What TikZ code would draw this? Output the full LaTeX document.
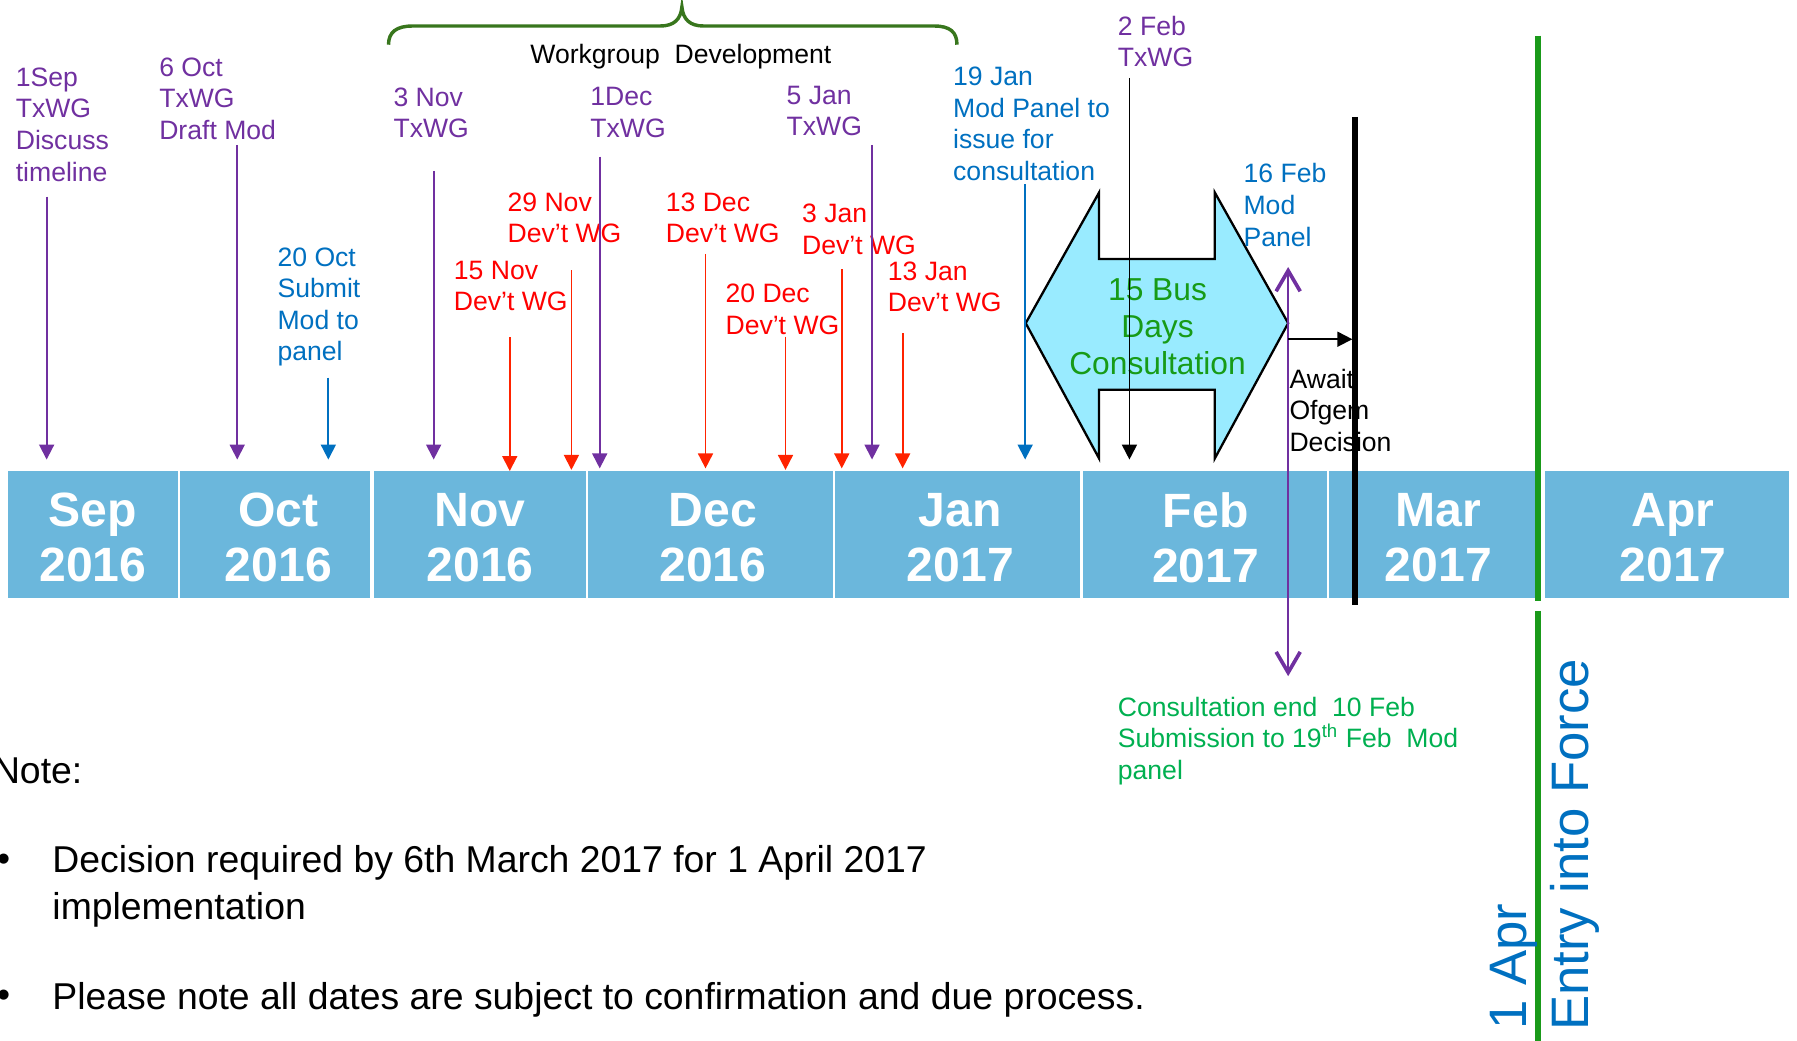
\documentclass[tikz,border=0pt]{standalone}
\usepackage{fontspec}
\setmainfont{Liberation Sans}
\usetikzlibrary{arrows.meta}
\definecolor{cpurple}{RGB}{112,48,160}
\definecolor{cblue}{RGB}{0,112,192}
\definecolor{cred}{RGB}{255,0,0}
\definecolor{carrred}{RGB}{255,35,0}
\definecolor{cgreen}{RGB}{0,176,80}
\definecolor{cgreenline}{RGB}{26,154,26}
\definecolor{cbrace}{RGB}{56,118,29}
\definecolor{barblue}{RGB}{107,183,220}
\definecolor{hexfill}{RGB}{153,235,255}
\definecolor{consgreen}{RGB}{23,155,23}
\begin{document}
\begin{tikzpicture}[x=0.5pt,y=-0.5pt,
  lbl/.style={inner sep=0pt, align=left, anchor=north west, font=\fontsize{11.6pt}{13.8pt}\selectfont},
  mtext/.style={inner sep=0pt, align=center, text=white, font=\bfseries\fontsize{21pt}{24pt}\selectfont},
  notetext/.style={inner sep=0pt, align=left, anchor=north west, font=\fontsize{16.3pt}{20.3pt}\selectfont},
  bullet/.style={inner sep=0pt, anchor=base west, font=\fontsize{16.3pt}{20.3pt}\selectfont},
  rottext/.style={inner sep=0pt, rotate=90, anchor=base west, text=cblue, font=\fontsize{23pt}{27pt}\selectfont},
  arr/.style={line width=0.8pt, -{Triangle[length=6.5pt,width=6.5pt]}},
  dblv/.style={{Straight Barb[length=9pt,width=10.5pt,line width=1.6pt]}-{Straight Barb[length=9pt,width=10.5pt,line width=1.6pt]}}
]
\useasboundingbox (0,0) rectangle (1568,908);

% month bar
\foreach \n/\a/\b in {sep/7/155, oct/157/323, nov/326/511, dec/513/727, jan/729/942, feb/945/1158, mar/1160/1340, apr/1348/1561}{
  \path[fill=barblue] (\a,411) rectangle (\b,522);
}
\node[mtext] (tsep) at (81,469) {Sep\\2016};
\node[mtext] (toct) at (243,469) {Oct\\2016};
\node[mtext] (tnov) at (419,469) {Nov\\2016};
\node[mtext] (tdec) at (622,469) {Dec\\2016};
\node[mtext] (tjan) at (838,469) {Jan\\2017};
\node[mtext] (tfeb) at (1052,469) {Feb\\2017};
\node[mtext] (tmar) at (1255,469) {Mar\\2017};
\node[mtext] (tapr) at (1460,469) {Apr\\2017};

% brace
\draw[cbrace, line width=1.5pt] (339,39) .. controls (339,28) and (346,22.7) .. (360,22.7) -- (576,22.7)
  .. controls (588,22.7) and (594,17) .. (595,6) .. controls (596,17) and (602,22.7) .. (614,22.7) -- (815,22.7)
  .. controls (829,22.7) and (835,28) .. (835,39);
\node[lbl] (lwg) at (462.4,38) {Workgroup\ \ Development};

% consultation double arrow
\draw[line width=1pt, fill=hexfill] (895,282) -- (959,168) -- (959,226) -- (1060,226) -- (1060,168) -- (1124,282)
  -- (1060,400) -- (1060,340) -- (959,340) -- (959,400) -- cycle;
\node[inner sep=0pt, align=center, anchor=north, text=consgreen, font=\fontsize{13.85pt}{16.3pt}\selectfont] (lcons) at (1010,242.5) {15 Bus\\Days\\Consultation};

% labels
\node[lbl, text=cpurple] (l1sep) at (13.4,58.6) {1Sep\\TxWG\\Discuss\\timeline};
\node[lbl, text=cpurple] (l6oct) at (138.6,49.8) {6 Oct\\TxWG\\Draft Mod};
\node[lbl, text=cpurple] (l3nov) at (343,76) {3 Nov\\TxWG};
\node[lbl, text=cpurple] (l1dec) at (514.8,76) {1Dec\\TxWG};
\node[lbl, text=cpurple] (l5jan) at (686,74.5) {5 Jan\\TxWG};
\node[lbl, text=cpurple] (l2feb) at (975,13.4) {2 Feb\\TxWG};
\node[lbl, text=cblue] (l20oct) at (241.8,215.6) {20 Oct\\Submit\\Mod to\\panel};
\node[lbl, text=cblue] (l19jan) at (831.3,58) {19 Jan\\Mod Panel to\\issue for\\consultation};
\node[lbl, text=cblue] (l16feb) at (1084.7,142.3) {16 Feb\\Mod\\Panel};
\node[lbl, text=cred] (l29nov) at (442.5,167.6) {29 Nov\\Dev’t WG};
\node[lbl, text=cred] (l15nov) at (395.7,227.2) {15 Nov\\Dev’t WG};
\node[lbl, text=cred] (l13dec) at (580.6,167.6) {13 Dec\\Dev’t WG};
\node[lbl, text=cred] (l20dec) at (632.7,247.6) {20 Dec\\Dev’t WG};
\node[lbl, text=cred] (l3jan) at (699.5,177.8) {3 Jan\\Dev’t WG};
\node[lbl, text=cred] (l13jan) at (774.3,227.8) {13 Jan\\Dev’t WG};
\node[lbl] (lawait) at (1124.8,321.6) {Await\\Ofgem\\Decision};
\node[lbl, text=cgreen] (lcend) at (975,607.6) {Consultation end\ \ 10 Feb\\Submission to 19\textsuperscript{th} Feb\ \ Mod\\panel};

% arrows
\foreach \n/\x/\ya/\yb/\c in {
  a1sep/40.7/171.6/401/cpurple, a6oct/207/126.5/401/cpurple, a3nov/378.4/149/401/cpurple,
  a1dec/523.3/136.7/408.7/cpurple, a5jan/760.9/126.5/401/cpurple,
  a20oct/286.5/329.6/401/cblue, a19jan/894.5/160.9/401/cblue,
  a15nov/444.8/294.4/411/carrred, a29nov/498.6/235.6/410/carrred, a13dec/615.6/221.6/408.7/carrred,
  a20dec/685.4/293.8/410/carrred, a3jan/734.5/235/408.7/carrred, a13jan/787.6/290.9/408.7/carrred,
  a2feb/985.5/68/401/black}{
  \coordinate (\n s) at (\x,\ya);
  \coordinate (\n e) at (\x,\yb);
  \draw[arr, \c] (\n s) -- (\n e);
}

% 16 Feb / consultation end double arrow
\coordinate (pup) at (1124,233);
\coordinate (pdown) at (1124,590);
\draw[cpurple, line width=0.6pt, dblv] (pup) -- (pdown);

% await arrow
\coordinate (aws) at (1124,296);
\coordinate (awe) at (1180,296);
\draw[arr, black] (aws) -- (awe);

% decision line
\coordinate (dtop) at (1182,102);
\coordinate (dbot) at (1182,528);
\draw[line width=2.5pt] (dtop) -- (dbot);

% entry into force line
\coordinate (gtop) at (1342,31);
\coordinate (gmid1) at (1342,524);
\coordinate (gmid2) at (1342,533);
\coordinate (gbot) at (1342,910);
\draw[cgreenline, line width=3pt] (gtop) -- (gmid1);
\draw[cgreenline, line width=3pt] (gmid2) -- (gbot);
\node[rottext] (apr1) at (1332,899) {1 Apr};
\node[rottext] (entry) at (1386,900) {Entry into Force};

% notes
\node[notetext] (note) at (-6.5,660.5) {Note:};
\node[bullet] (bul1) at (-3,760.5) {•};
\node[notetext] (n1) at (45.4,737.5) {Decision required by 6th March 2017 for 1 April 2017\\implementation};
\node[bullet] (bul2) at (-3,879.5) {•};
\node[notetext] (n2) at (45.4,856.5) {Please note all dates are subject to confirmation and due process.};
\end{tikzpicture}
\end{document}
